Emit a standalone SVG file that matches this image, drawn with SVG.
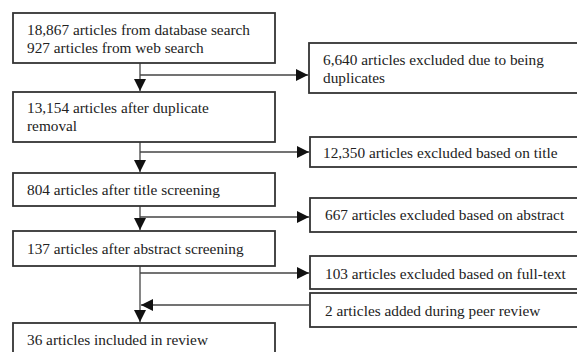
<svg xmlns="http://www.w3.org/2000/svg" width="577" height="352" viewBox="0 0 577 352">
<defs>
<marker id="ah" markerUnits="userSpaceOnUse" markerWidth="12" markerHeight="12" refX="12" refY="6" orient="auto">
<path d="M0,0 L12,6 L0,12 Z" fill="#111"/>
</marker>
<style>
.box{fill:#fff;stroke:#333;stroke-width:1.8}
.t{font-family:"Liberation Serif","Times New Roman",serif;font-size:15.3px;fill:#222}
.ca{fill:none;stroke:#444;stroke-width:1.3;marker-end:url(#ah)}
</style>
</defs>
<rect width="577" height="352" fill="#fff"/>
<g id="connectors">
<path class="ca" d="M140,63 V91"/>
<path class="ca" d="M140,75 H308"/>
<path class="ca" d="M140,142 V172"/>
<path class="ca" d="M140,152 H309"/>
<path class="ca" d="M140,206 V230"/>
<path class="ca" d="M140,217 H309"/>
<path class="ca" d="M140,266 V322"/>
<path class="ca" d="M140,273 H309"/>
<path class="ca" d="M309,305 H141"/>
</g>
<g id="n1"><rect class="box" x="13" y="13" width="262" height="50"/><text class="t" x="27" y="35">18,867 articles from database search</text><text class="t" x="27" y="53">927 articles from web search</text></g>
<g id="n2"><rect class="box" x="13" y="92" width="262" height="50"/><text class="t" x="27" y="113">13,154 articles after duplicate</text><text class="t" x="27" y="131">removal</text></g>
<g id="n3"><rect class="box" x="13" y="173" width="262" height="33"/><text class="t" x="27" y="195">804 articles after title screening</text></g>
<g id="n4"><rect class="box" x="13" y="231" width="262" height="35"/><text class="t" x="27" y="254">137 articles after abstract screening</text></g>
<g id="n5"><rect class="box" x="13" y="323" width="262" height="40"/><text class="t" x="27" y="345">36 articles included in review</text></g>
<g id="e1"><rect class="box" x="309" y="43" width="270" height="50"/><text class="t" x="323" y="65">6,640 articles excluded due to being</text><text class="t" x="323" y="83">duplicates</text></g>
<g id="e2"><rect class="box" x="310" y="137" width="269" height="30"/><text class="t" x="323" y="158">12,350 articles excluded based on title</text></g>
<g id="e3"><rect class="box" x="310" y="198" width="269" height="34"/><text class="t" x="325" y="220">667 articles excluded based on abstract</text></g>
<g id="e4"><rect class="box" x="310" y="256" width="269" height="33"/><text class="t" x="325" y="279">103 articles excluded based on full-text</text></g>
<g id="e5"><rect class="box" x="310" y="293" width="269" height="34"/><text class="t" x="325" y="316">2 articles added during peer review</text></g>
</svg>
